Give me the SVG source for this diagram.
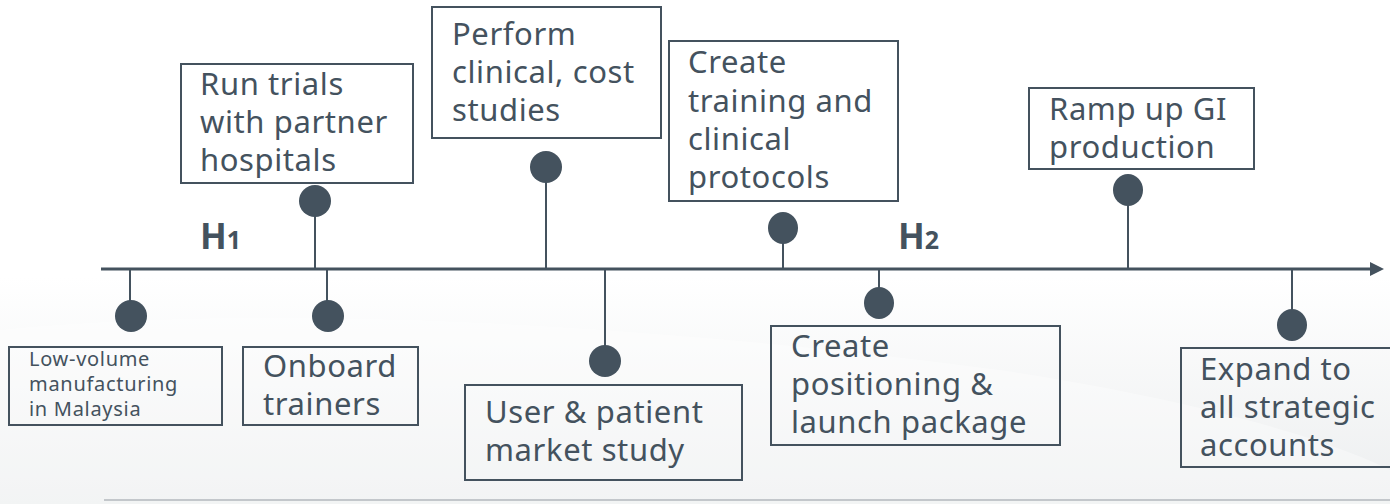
<svg xmlns="http://www.w3.org/2000/svg" width="1390" height="504" viewBox="0 0 1390 504">
  <defs>
    <linearGradient id="bg" x1="0" y1="0" x2="0" y2="1">
      <stop offset="0" stop-color="#ffffff"/>
      <stop offset="0.55" stop-color="#ffffff"/>
      <stop offset="1" stop-color="#eceeef"/>
    </linearGradient>
    <marker id="arrow" viewBox="0 0 14 14" refX="2" refY="7" markerWidth="14" markerHeight="14" markerUnits="userSpaceOnUse" orient="auto">
      <path d="M0,0 L14,7 L0,14 Z" fill="#44525e"/>
    </marker>
    <style>
      .box { fill: none; stroke: #44525e; stroke-width: 2; }
      .lbl { font-family: "Noto Sans", "Open Sans", sans-serif; font-size: 31px; letter-spacing: 0.6px; fill: #44525e; }
      .sm { font-size: 20px; letter-spacing: 0.7px; }
      .stem { stroke: #44525e; stroke-width: 2; fill: none; }
      .dot { fill: #44525e; }
      .half { font-family: "Noto Sans", "Open Sans", sans-serif; font-weight: bold; font-size: 35px; fill: #44525e; }
    </style>
  </defs>

  <!-- background -->
  <rect x="0" y="0" width="1390" height="504" fill="url(#bg)"/>
  <path d="M0,330 C300,300 700,330 1000,370 C1200,400 1330,440 1390,470 L1390,504 L0,504 Z" fill="#ffffff" opacity="0.35"/>
  <line x1="104" y1="500" x2="1390" y2="500" stroke="#c3c7cb" stroke-width="2"/>

  <!-- timeline, stems and dots -->
  <g id="connectors">
    <line x1="101" y1="269" x2="1372" y2="269" stroke="#44525e" stroke-width="3" marker-end="url(#arrow)"/>
    <line class="stem" x1="130" y1="269" x2="130" y2="310"/>
    <line class="stem" x1="315" y1="201" x2="315" y2="269"/>
    <line class="stem" x1="327" y1="269" x2="327" y2="310"/>
    <line class="stem" x1="546" y1="167" x2="546" y2="269"/>
    <line class="stem" x1="605" y1="269" x2="605" y2="355"/>
    <line class="stem" x1="783" y1="228" x2="783" y2="269"/>
    <line class="stem" x1="879" y1="269" x2="879" y2="300"/>
    <line class="stem" x1="1128" y1="190" x2="1128" y2="269"/>
    <line class="stem" x1="1292" y1="269" x2="1292" y2="320"/>
  </g>

  <g id="h1"><text class="half" x="200" y="249">H<tspan font-size="25">1</tspan></text></g>
  <g id="h2"><text class="half" x="898" y="249">H<tspan font-size="25">2</tspan></text></g>

  <g id="low-volume">
    <ellipse class="dot" cx="131" cy="316" rx="16" ry="16"/>
    <rect class="box" x="9" y="347" width="213" height="78"/>
    <text class="lbl sm"><tspan x="29" y="366">Low-volume</tspan><tspan x="29" y="391">manufacturing</tspan><tspan x="29" y="416">in Malaysia</tspan></text>
  </g>

  <g id="run-trials">
    <ellipse class="dot" cx="315" cy="201" rx="16" ry="16"/>
    <rect class="box" x="181" y="64" width="232" height="119"/>
    <text class="lbl"><tspan x="200" y="95">Run trials</tspan><tspan x="200" y="133">with partner</tspan><tspan x="200" y="171">hospitals</tspan></text>
  </g>

  <g id="onboard">
    <ellipse class="dot" cx="328" cy="316" rx="16" ry="16"/>
    <rect class="box" x="243" y="347" width="175" height="78"/>
    <text class="lbl"><tspan x="263" y="377">Onboard</tspan><tspan x="263" y="415">trainers</tspan></text>
  </g>

  <g id="perform">
    <ellipse class="dot" cx="546" cy="167" rx="16" ry="16"/>
    <rect class="box" x="432" y="7" width="229" height="131"/>
    <text class="lbl"><tspan x="452" y="45">Perform</tspan><tspan x="452" y="83">clinical, cost</tspan><tspan x="452" y="121">studies</tspan></text>
  </g>

  <g id="market-study">
    <ellipse class="dot" cx="605" cy="361" rx="16" ry="16"/>
    <rect class="box" x="465" y="385" width="277" height="95"/>
    <text class="lbl"><tspan x="485" y="423">User &amp; patient</tspan><tspan x="485" y="461">market study</tspan></text>
  </g>

  <g id="training">
    <ellipse class="dot" cx="783" cy="228" rx="15" ry="16"/>
    <rect class="box" x="669" y="41" width="229" height="160"/>
    <text class="lbl"><tspan x="688" y="73">Create</tspan><tspan x="688" y="112">training and</tspan><tspan x="688" y="150">clinical</tspan><tspan x="688" y="188">protocols</tspan></text>
  </g>

  <g id="positioning">
    <ellipse class="dot" cx="879" cy="303" rx="15" ry="16"/>
    <rect class="box" x="771" y="326" width="289" height="119"/>
    <text class="lbl"><tspan x="791" y="357">Create</tspan><tspan x="791" y="395">positioning &amp;</tspan><tspan x="791" y="433">launch package</tspan></text>
  </g>

  <g id="ramp-up">
    <ellipse class="dot" cx="1128" cy="190" rx="15" ry="16"/>
    <rect class="box" x="1029" y="88" width="225" height="81"/>
    <text class="lbl"><tspan x="1049" y="120">Ramp up GI</tspan><tspan x="1049" y="158">production</tspan></text>
  </g>

  <g id="expand">
    <ellipse class="dot" cx="1292" cy="325" rx="15" ry="16"/>
    <rect class="box" x="1181" y="348" width="215" height="119"/>
    <text class="lbl"><tspan x="1200" y="380">Expand to</tspan><tspan x="1200" y="418">all strategic</tspan><tspan x="1200" y="456">accounts</tspan></text>
  </g>
</svg>
